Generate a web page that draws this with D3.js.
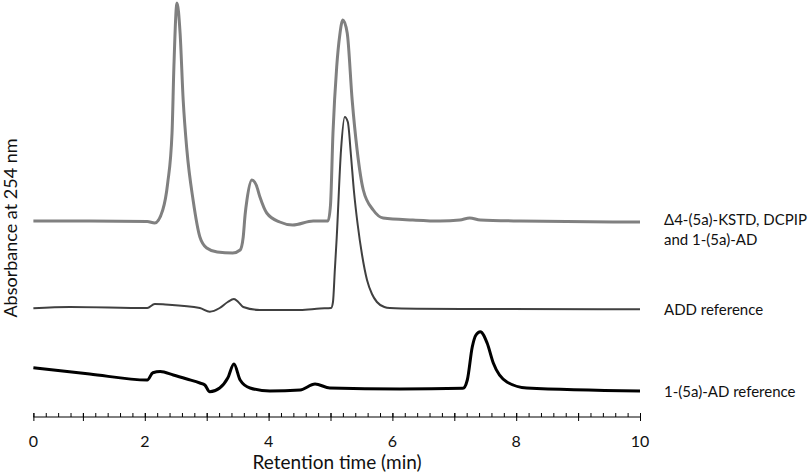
<!DOCTYPE html>
<html>
<head>
<meta charset="utf-8">
<script src="https://cdn.jsdelivr.net/npm/d3@7"></script>
<style>
  body { margin: 0; background: #fff; }
  text { font-family: Lato, "Open Sans", sans-serif; fill: #111; }
</style>
</head>
<body>
<svg width="812" height="474"></svg>
<script>
// retention time (min) and absorbance (arbitrary units, traces stacked)
const kstdTime = [0.2, 1.11, 2.04, 2.16, 2.29, 2.37, 2.44, 2.47, 2.52, 2.57, 2.62, 2.68, 2.78, 2.89, 3.0, 3.17, 3.42, 3.54, 3.59, 3.62, 3.65, 3.73, 3.8, 3.86, 3.97, 4.18, 4.39, 4.72, 4.96, 5.0, 5.04, 5.1, 5.15, 5.2, 5.27, 5.35, 5.43, 5.53, 5.69, 5.85, 6.33, 6.77, 7.09, 7.25, 7.42, 8.06, 10]
const kstdAbs = [199, 199, 198.5, 197, 210, 237, 287, 353, 417, 387, 320, 270, 220, 183, 172, 168, 167, 170, 183, 205, 220, 240, 235, 223, 207, 198, 195, 199, 199, 215, 287, 353, 385, 400, 387, 320, 270, 230, 210, 202, 200, 199, 200, 202, 200, 199, 198]

const addTime = [0.2, 0.79, 2.04, 2.16, 2.33, 2.89, 3.05, 3.21, 3.34, 3.44, 3.51, 3.59, 3.86, 4.51, 4.83, 5.01, 5.04, 5.07, 5.1, 5.17, 5.23, 5.28, 5.33, 5.38, 5.44, 5.51, 5.59, 5.67, 5.75, 5.87, 5.96, 6.4, 7.21, 10]
const addAbs = [111.7, 113, 112, 116, 115.5, 112, 108.3, 112, 118, 121, 118, 113, 110, 110, 111.5, 112, 118, 150, 182, 270, 303, 298, 265, 228, 195, 165, 140, 126, 118, 113, 112, 111.3, 111, 110.7]

const adTime = [0.2, 1.11, 2.04, 2.13, 2.25, 2.46, 2.68, 2.89, 2.97, 3.05, 3.21, 3.34, 3.44, 3.54, 3.7, 4.02, 4.51, 4.75, 4.99, 6.12, 7.14, 7.21, 7.29, 7.35, 7.42, 7.53, 7.63, 7.85, 8.17, 10]
const adAbs = [52.3, 46, 40, 47.3, 48.5, 45, 41, 37, 35, 28.3, 32, 42, 56, 40, 32, 29, 30, 36, 32, 31, 31.7, 40, 73, 85, 88.3, 77, 57, 38, 32, 29]

const seriesNames = [["\u03944-(5a)-KSTD, DCPIP", "and 1-(5a)-AD"], ["ADD reference"], ["1-(5a)-AD reference"]]
const seriesColors = ["#808080", "#404040", "#000000"]
const seriesWidths = [3, 2, 3]

const xTickValues = [0.2, 2, 4, 6, 8, 10]
const xTickLabels = ["0", "2", "4", "6", "8", "10"]

let svg = d3.select('svg')

let x = d3.scaleLinear().domain([0, 10]).range([21, 640])
let y = d3.scaleLinear().domain([0, 420]).range([420, 0])

let series = [
    {t: kstdTime, a: kstdAbs},
    {t: addTime, a: addAbs},
    {t: adTime, a: adAbs},
]

let line = d3.line()
    .x(d => x(d[0]))
    .y(d => y(d[1]))
    .curve(d3.curveMonotoneX)

series.forEach(function(s, i){
    svg.append('path')
        .datum(d3.zip(s.t, s.a))
        .attr('d', line)
        .attr('fill', 'none')
        .attr('stroke', seriesColors[i])
        .attr('stroke-width', seriesWidths[i])
        .attr('stroke-linejoin', 'round')

    // label at right end of each trace
    let last = s.a[s.a.length - 1]
    let lbl = svg.append('text')
        .attr('x', x(10) + 24)
        .attr('y', y(last) + (seriesNames[i].length > 1 ? 3 : 6))
        .attr('font-size', 15)
    seriesNames[i].forEach(function(n, j){
        lbl.append('tspan')
            .attr('x', x(10) + 24)
            .attr('dy', j == 0 ? 0 : 20)
            .text(n)
    })
})

// x axis
let axisY = y(3)
let minor = svg.append('g')
    .attr('transform', 'translate(0,' + axisY + ')')
    .call(d3.axisBottom(x).tickValues(d3.range(1, 50).map(k => k * 0.2).concat([10])).tickSize(-4).tickFormat(''))
minor.select('.domain').remove()

let major = svg.append('g')
    .attr('transform', 'translate(0,' + axisY + ')')
    .call(d3.axisBottom(x).tickValues(d3.range(1, 11).concat([0.2])).tickSize(4).tickFormat(''))
major.select('.domain').remove()
major.selectAll('line').attr('y1', -4)

svg.append('line')
    .attr('x1', x(0.2)).attr('x2', x(10))
    .attr('y1', axisY).attr('y2', axisY)
    .attr('stroke', '#000')

svg.selectAll('.xlabel')
    .data(xTickValues)
    .enter()
    .append('text')
    .attr('class', 'xlabel')
    .attr('x', d => x(d))
    .attr('y', axisY + 30)
    .attr('text-anchor', 'middle')
    .attr('font-size', 16)
    .text((d, i) => xTickLabels[i])

svg.append('text')
    .attr('x', 337)
    .attr('y', 469)
    .attr('text-anchor', 'middle')
    .attr('font-size', 19)
    .text('Retention time (min)')

svg.append('text')
    .attr('transform', 'translate(17,' + 228 + ') rotate(-90)')
    .attr('text-anchor', 'middle')
    .attr('font-size', 18)
    .text('Absorbance at 254 nm')
</script>
</body>
</html>
